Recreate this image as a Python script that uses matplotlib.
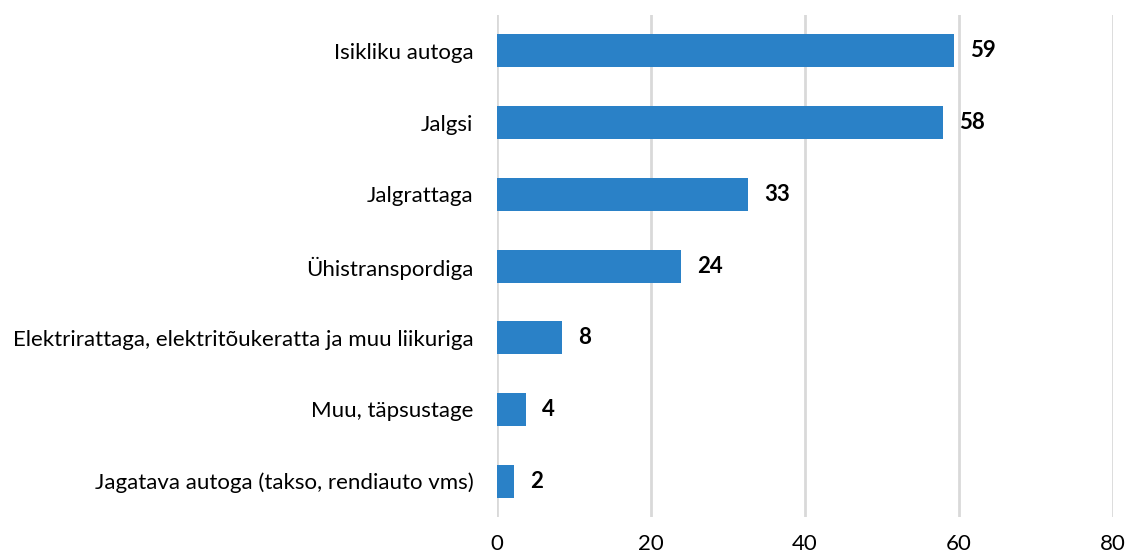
import matplotlib.pyplot as plt

categories = [
    "Isikliku autoga",
    "Jalgsi",
    "Jalgrattaga",
    "Ühistranspordiga",
    "Elektrirattaga, elektritõukeratta ja muu liikuriga",
    "Muu, täpsustage",
    "Jagatava autoga (takso, rendiauto vms)",
]
values = [59.4, 57.9, 32.6, 23.9, 8.4, 3.8, 2.2]
labels = ["59", "58", "33", "24", "8", "4", "2"]
xticks = [0, 20, 40, 60, 80]

plt.rcParams['font.family'] = ['Lato', 'DejaVu Sans']

fig = plt.figure(figsize=(11.29, 5.58), dpi=100)
ax = fig.add_axes([0.4402, 0.0735, 0.5456, 0.8995])

y = list(range(len(categories)))[::-1]
ax.barh(y, values, height=0.46, color="#2a81c7", zorder=3)

for yi, v, lab in zip(y, values, labels):
    ax.text(v + 2.1, yi, lab, va="center", ha="left",
            fontsize=16, fontweight="bold", color="black")

ax.set_yticks(y)
ax.set_yticklabels(categories, fontsize=16)
ax.set_xticks(xticks)
ax.set_xticklabels([str(t) for t in xticks], fontsize=16)
ax.set_xlim(0, 80)
ax.set_ylim(-0.5, len(categories) - 0.5)

ax.grid(axis="x", color="#d9d9d9", linewidth=2, zorder=0)
for s in ax.spines.values():
    s.set_visible(False)
ax.tick_params(axis="both", length=0)
ax.tick_params(axis="x", pad=12)
ax.tick_params(axis="y", pad=17)

fig.savefig("out.png", dpi=100)
